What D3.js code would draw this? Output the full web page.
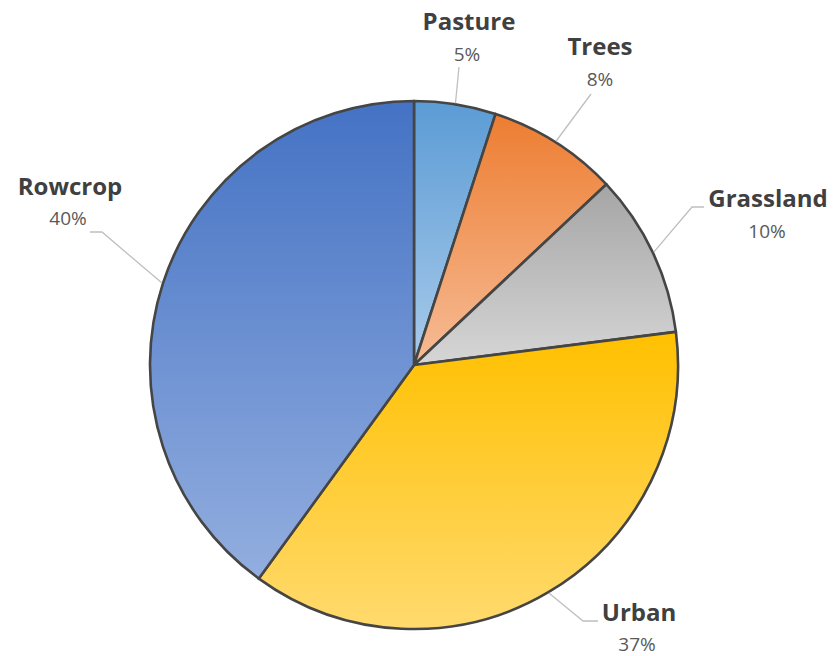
<!DOCTYPE html>
<html>
<head>
<meta charset="utf-8">
<script src="https://cdn.jsdelivr.net/npm/d3@7"></script>
<style>
  html, body { margin: 0; padding: 0; background: #fff; }
  svg { display: block; }
</style>
</head>
<body>
<svg id="chart" width="835" height="656"></svg>
<script>
// Land use shares, clockwise from 12 o'clock
const categories = ["Pasture", "Trees", "Grassland", "Urban", "Rowcrop"];
const shares = [5, 8, 10, 37, 40];
const pctLabels = ["5%", "8%", "10%", "37%", "40%"];

// Fill ramps (top colour -> bottom colour) for each slice
const topColors = ["#5B9BD5", "#ED7D31", "#A5A5A5", "#FFC000", "#4472C4"];
const bottomColors = ["#A9CBEA", "#F6BC96", "#D6D6D6", "#FFDA6E", "#93AEDF"];

const W = 835, H = 656;
const cx = 414, cy = 365, R = 264;

const svg = d3.select("#chart");
const defs = svg.append("defs");

topColors.forEach((c, i) => {
  const g = defs.append("linearGradient")
    .attr("id", "grad" + i)
    .attr("x1", 0).attr("y1", 0).attr("x2", 0).attr("y2", 1);
  g.append("stop").attr("offset", "0%").attr("stop-color", c);
  g.append("stop").attr("offset", "100%").attr("stop-color", bottomColors[i]);
});

const pie = d3.pie().sort(null).value(d => d.v);
const arcs = pie(categories.map((c, i) => ({ name: c, v: shares[i], pct: pctLabels[i], i })));
const arc = d3.arc().innerRadius(0).outerRadius(R);

const g = svg.append("g").attr("transform", `translate(${cx},${cy})`);

g.selectAll("path.slice")
  .data(arcs)
  .join("path")
  .attr("class", "slice")
  .attr("d", arc)
  .attr("fill", d => `url(#grad${d.data.i})`)
  .attr("stroke", "#454545")
  .attr("stroke-width", 2.6)
  .attr("stroke-linejoin", "round");

// Label placement relative to the pie centre: name baseline, percent baseline,
// leader elbow and leader end
const labelLayout = {
  Pasture:   { name: [55, -335], pct: [53, -304], elbow: null, end: [45, -298] },
  Trees:     { name: [186, -310], pct: [186, -279], elbow: null, end: [177, -271] },
  Grassland: { name: [354, -158], pct: [353, -127], elbow: [278, -158], end: [290, -158] },
  Urban:     { name: [225, 256], pct: [223, 286], elbow: [169, 256], end: [184, 256] },
  Rowcrop:   { name: [-344, -170], pct: [-346, -140], elbow: [-312, -133], end: [-324, -133] }
};

const leader = g.append("g");
arcs.forEach(d => {
  const L = labelLayout[d.data.name];
  const a = (d.startAngle + d.endAngle) / 2;
  const r0 = R + 1;
  const start = [Math.sin(a) * r0, -Math.cos(a) * r0];
  const pts = [start];
  if (L.elbow) pts.push(L.elbow);
  pts.push(L.end);
  leader.append("path")
    .attr("d", d3.line()(pts))
    .attr("fill", "none")
    .attr("stroke", "#BFBFBF")
    .attr("stroke-width", 1.3);
});

const labels = g.append("g").attr("text-anchor", "middle");
arcs.forEach(d => {
  const L = labelLayout[d.data.name];
  labels.append("text")
    .attr("x", L.name[0]).attr("y", L.name[1])
    .attr("font-family", "'Open Sans', sans-serif")
    .attr("font-weight", 700)
    .attr("font-size", 24)
    .attr("fill", "#404040")
    .text(d.data.name);
  labels.append("text")
    .attr("x", L.pct[0]).attr("y", L.pct[1])
    .attr("font-family", "'Open Sans', sans-serif")
    .attr("font-size", 19)
    .attr("fill", "#595959")
    .text(d.data.pct);
});
</script>
</body>
</html>
